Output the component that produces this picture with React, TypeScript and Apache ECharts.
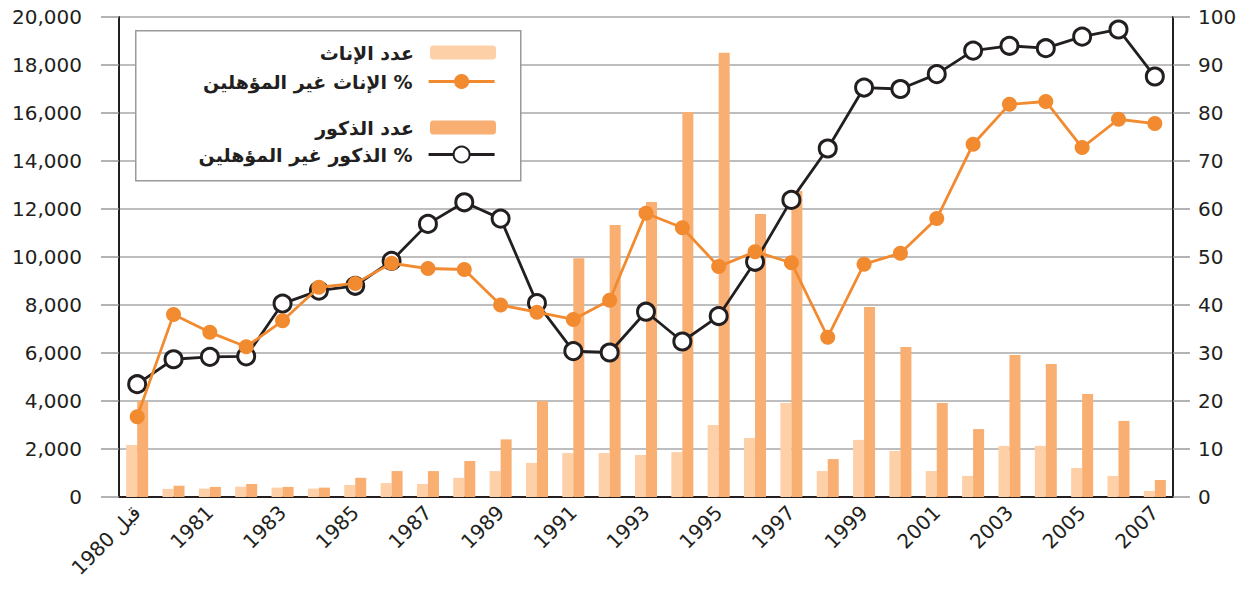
import React, { useEffect, useRef } from "react";
import * as echarts from "echarts";

const categories = [
  "قبل 1980", "1980", "1981", "1982", "1983", "1984", "1985", "1986", "1987", "1988",
  "1989", "1990", "1991", "1992", "1993", "1994", "1995", "1996", "1997", "1998",
  "1999", "2000", "2001", "2002", "2003", "2004", "2005", "2006", "2007",
];

const femaleCount = [
  2170, 340, 350, 430, 390, 350, 500, 580, 540, 800,
  1080, 1420, 1830, 1830, 1750, 1870, 3000, 2460, 3920, 1080,
  2380, 1920, 1080, 880, 2130, 2130, 1210, 880, 250,
];

const maleCount = [
  4000, 470, 420, 540, 420, 390, 800, 1080, 1080, 1500,
  2400, 4000, 9950, 11330, 12290, 16040, 18510, 11790, 12750, 1580,
  7920, 6250, 3920, 2830, 5920, 5540, 4290, 3170, 710,
];

const femalePct = [
  16.7, 38.0, 34.3, 31.3, 36.7, 43.7, 44.5, 48.7, 47.6, 47.4,
  40.0, 38.5, 37.0, 41.0, 59.1, 56.1, 48.0, 51.1, 48.8, 33.3,
  48.5, 50.8, 58.0, 73.5, 81.8, 82.4, 72.8, 78.7, 77.8,
];

const malePct = [
  23.5, 28.7, 29.2, 29.3, 40.3, 43.0, 44.0, 49.2, 56.9, 61.4,
  58.0, 40.4, 30.4, 30.1, 38.6, 32.4, 37.7, 49.0, 61.9, 72.6,
  85.3, 85.0, 88.1, 93.0, 94.0, 93.5, 95.9, 97.4, 87.6,
];

const leftTicks = { min: 0, max: 20000, interval: 2000 };
const rightTicks = { min: 0, max: 100, interval: 10 };

const nameFemaleCount = "عدد الإناث";
const nameFemalePct = "\u200F% الإناث غير المؤهلين";
const nameMaleCount = "عدد الذكور";
const nameMalePct = "\u200F% الذكور غير المؤهلين";

const FONT = "DejaVu Sans";
const ARFONT = "DejaVu Sans";

export default function App() {
  const ref = useRef<HTMLDivElement>(null);

  useEffect(() => {
    document.body.style.margin = "0";
    if (!ref.current) return;
    const chart = echarts.init(ref.current, null, { renderer: "svg" });

    const legendText = {
      fontFamily: ARFONT,
      fontWeight: "bold" as const,
      fontSize: 19,
      color: "#231f20",
      padding: [0, 11, 0, 0],
    };
    const mkLegend = (name: string, top: number, itemHeight: number) => ({
      data: [name],
      orient: "vertical",
      align: "right",
      right: 751,
      top,
      padding: 0,
      itemWidth: 66,
      itemHeight,
      selectedMode: false,
      textStyle: legendText,
      lineStyle: { width: 2.8 },
      z: 5,
    });

    chart.setOption({
      animation: false,
      grid: { left: 119, right: 74, top: 17, bottom: 96, containLabel: false },
      graphic: [
        {
          type: "rect",
          left: 135,
          top: 30,
          z: 3,
          shape: { width: 385, height: 150 },
          style: { fill: "#ffffff", stroke: "#9a9a9a", lineWidth: 1.5 },
        },
      ],
      legend: [
        mkLegend(nameFemaleCount, 43, 14),
        mkLegend(nameFemalePct, 72, 19),
        mkLegend(nameMaleCount, 118, 14),
        mkLegend(nameMalePct, 145, 20),
      ],
      xAxis: [
        {
          type: "category",
          data: categories,
          boundaryGap: true,
          axisLine: { lineStyle: { color: "#231f20", width: 2 } },
          axisTick: { show: false },
          axisLabel: {
            interval: 1,
            rotate: 45,
            margin: 12,
            fontFamily: FONT,
            fontSize: 20,
            color: "#231f20",
          },
        },
        {
          type: "category",
          data: categories,
          position: "top",
          axisLine: { lineStyle: { color: "#231f20", width: 2 } },
          axisTick: { show: false },
          axisLabel: { show: false },
        },
      ],
      yAxis: [
        {
          type: "value",
          min: leftTicks.min,
          max: leftTicks.max,
          interval: leftTicks.interval,
          axisLine: { show: true, lineStyle: { color: "#231f20", width: 2 } },
          axisTick: { show: true, inside: false, length: 18, lineStyle: { color: "#9a9a9a", width: 1.5 } },
          splitLine: { show: true, lineStyle: { color: "#a8a8a8", width: 1.5 } },
          axisLabel: {
            margin: 37,
            fontFamily: FONT,
            fontSize: 20,
            color: "#231f20",
            formatter: (v: number) => v.toLocaleString("en-US"),
          },
        },
        {
          type: "value",
          min: rightTicks.min,
          max: rightTicks.max,
          interval: rightTicks.interval,
          position: "right",
          axisLine: { show: true, lineStyle: { color: "#231f20", width: 2 } },
          axisTick: { show: true, inside: false, length: 17, lineStyle: { color: "#9a9a9a", width: 1.5 } },
          splitLine: { show: false },
          axisLabel: {
            margin: 25,
            fontFamily: FONT,
            fontSize: 20,
            color: "#231f20",
          },
        },
      ],
      series: [
        {
          name: nameFemaleCount,
          type: "bar",
          yAxisIndex: 0,
          data: femaleCount,
          barWidth: 11,
          barGap: "0%",
          itemStyle: { color: "#fdd0a8" },
          z: 2,
        },
        {
          name: nameMaleCount,
          type: "bar",
          yAxisIndex: 0,
          data: maleCount,
          barWidth: 11,
          barGap: "0%",
          itemStyle: { color: "#f9ae72" },
          z: 2,
        },
        {
          name: nameMalePct,
          type: "line",
          yAxisIndex: 1,
          data: malePct,
          symbol: "circle",
          symbolSize: 17,
          showAllSymbol: true,
          lineStyle: { color: "#231f20", width: 2.8 },
          itemStyle: { color: "#ffffff", borderColor: "#231f20", borderWidth: 3 },
          z: 6,
        },
        {
          name: nameFemalePct,
          type: "line",
          yAxisIndex: 1,
          data: femalePct,
          symbol: "circle",
          symbolSize: 15,
          showAllSymbol: true,
          lineStyle: { color: "#f28a30", width: 2.8 },
          itemStyle: { color: "#f28a30", borderColor: "#f28a30", borderWidth: 0 },
          z: 7,
        },
      ],
    });

    return () => chart.dispose();
  }, []);

  return <div ref={ref} style={{ width: 1247, height: 593 }} />;
}
